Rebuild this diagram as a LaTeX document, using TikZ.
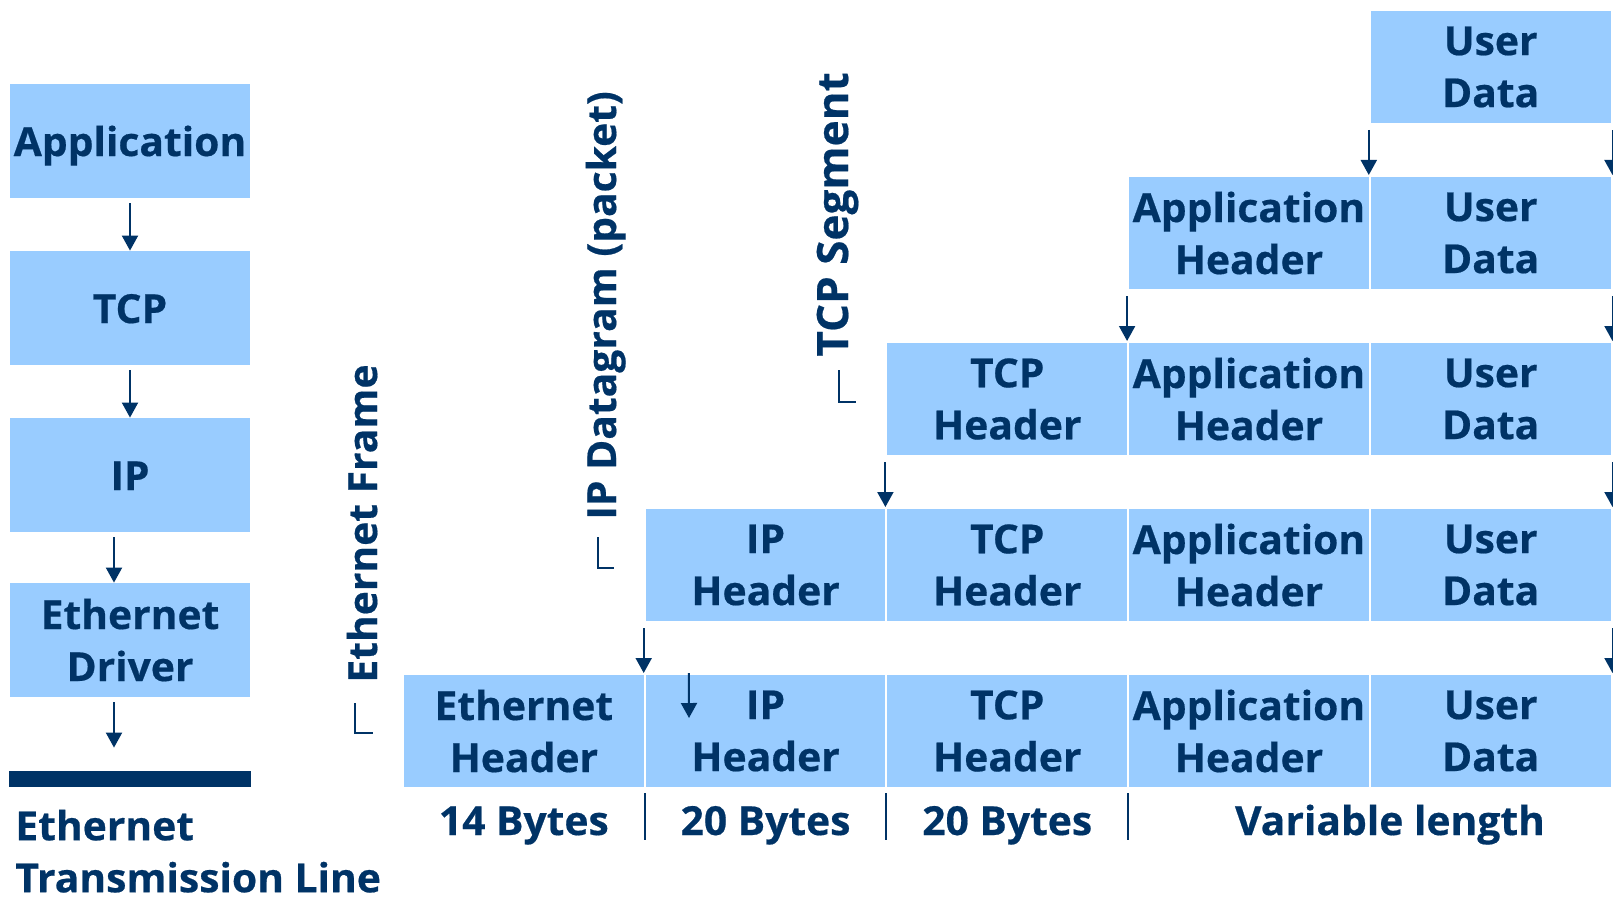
\documentclass[tikz,border=0pt]{standalone}
\usepackage{fontspec}
\setmainfont{Open Sans}[BoldFeatures={FakeBold=0.5, FakeStretch=1.02}]
\usepackage{tikz}
\usetikzlibrary{arrows.meta, positioning}
\definecolor{navy}{HTML}{003366}
\definecolor{cellblue}{HTML}{99CCFF}
\newcommand{\pktfont}{\fontsize{20pt}{26pt}\selectfont\bfseries}

\begin{document}
\begin{tikzpicture}[
	x=0.5pt, y=-0.5pt,
	layer/.style={fill=cellblue, text=navy, font=\pktfont, align=center, inner sep=0pt, minimum width=120pt, minimum height=57pt},
	oneline/.style={text height=15pt, text depth=0pt},
	cell/.style={fill=cellblue, draw=white, line width=1pt, text=navy, font=\pktfont, align=center, inner sep=0pt, minimum width=120.85pt, minimum height=57pt},
	framelabel/.style={rotate=90, anchor=base west, inner sep=0pt, text=navy, font=\pktfont},
	bytes/.style={anchor=base, inner sep=0pt, text=navy, font=\pktfont},
	arr/.style={->, draw=navy, line width=1pt, shorten <=2.5pt},
	>={Triangle[width=8pt, length=7.5pt]} % pointes pleines
	]
	\useasboundingbox (0,0) rectangle (1613,899);

	% Les couches
	\node[layer, oneline] (app) at (130,141) {Application};
	\node[layer, oneline] (tcp) at (130,308) {TCP};
	\node[layer, oneline] (ip) at (130,475) {IP};
	\node[layer] (eth) at (130,640) {Ethernet\\Driver};
	\node[fill=navy, inner sep=0pt, minimum width=121pt, minimum height=8pt] (cable) at (130,779) {};
	\node[anchor=south west, align=left, inner sep=0pt, text=navy, font=\pktfont] (medium) at (15,893) {Ethernet\\Transmission Line};

	\draw[arr] (app) -- (tcp);
	\draw[arr] (tcp) -- (ip);
	\draw[arr] ([xshift=-8pt]ip.south) -- ([xshift=-8pt]eth.north);
	\draw[arr, shorten >=11.5pt] ([xshift=-8pt]eth.south) -- ([xshift=-8pt]cable.north);

	% Les en-tetes
	\node[cell] (U0) at (1490.65,67) {User\\Data};

	\node[cell] (A1) at (1248.95,233) {Application\\Header};
	\node[cell] (U1) at (1490.65,233) {User\\Data};

	\node[cell] (T2) at (1007.25,399) {TCP\\Header};
	\node[cell] (A2) at (1248.95,399) {Application\\Header};
	\node[cell] (U2) at (1490.65,399) {User\\Data};

	\node[cell] (I3) at (765.55,565) {IP\\Header};
	\node[cell] (T3) at (1007.25,565) {TCP\\Header};
	\node[cell] (A3) at (1248.95,565) {Application\\Header};
	\node[cell] (U3) at (1490.65,565) {User\\Data};

	\node[cell] (E4) at (523.85,731) {Ethernet\\Header};
	\node[cell] (I4) at (765.55,731) {IP\\Header};
	\node[cell] (T4) at (1007.25,731) {TCP\\Header};
	\node[cell] (A4) at (1248.95,731) {Application\\Header};
	\node[cell] (U4) at (1490.65,731) {User\\Data};

	% Les fleches d'encapsulation
	\draw[arr] (U0.south west) -- (U1.north west);
	\draw[arr] (U0.south east) -- (U1.north east);
	\draw[arr] (A1.south west) -- (A2.north west);
	\draw[arr] (U1.south east) -- (U2.north east);
	\draw[arr] (T2.south west) -- (T3.north west);
	\draw[arr] (U2.south east) -- (U3.north east);
	\draw[arr] (I3.south west) -- (I4.north west);
	\draw[arr] (U3.south east) -- (U4.north east);
	\coordinate (mark) at (689,718);
	\draw[arr, shorten <=0pt] ([xshift=-38.3pt]I4.north) -- (mark);

	% Les noms des unites
	\node[framelabel] (frame) at (377,683) {Ethernet Frame};
	\node[framelabel] (datagram) at (616,520) {IP Datagram (packet)};
	\node[framelabel, font=\fontsize{21.6pt}{28pt}\selectfont\bfseries] (segment) at (848,357) {TCP Segment};
	\draw[navy, line width=0.75pt] (355,703) -- (355,733) -- (373,733);
	\draw[navy, line width=0.75pt] (598,537) -- (598,568) -- (614,568);
	\draw[navy, line width=0.75pt] (839,370) -- (839,402) -- (856,402);

	% Les tailles
	\node[bytes] (b0) at (523.85,835) {14 Bytes};
	\node[bytes] (b1) at (765.55,835) {20 Bytes};
	\node[bytes] (b2) at (1007.25,835) {20 Bytes};
	\node[bytes] (b3) at (1390,835) {Variable length};
	\draw[navy, line width=1pt] (644.7,793) -- (644.7,840);
	\draw[navy, line width=1pt] (886.4,793) -- (886.4,840);
	\draw[navy, line width=1pt] (1128.1,793) -- (1128.1,840);
\end{tikzpicture}
\end{document}
